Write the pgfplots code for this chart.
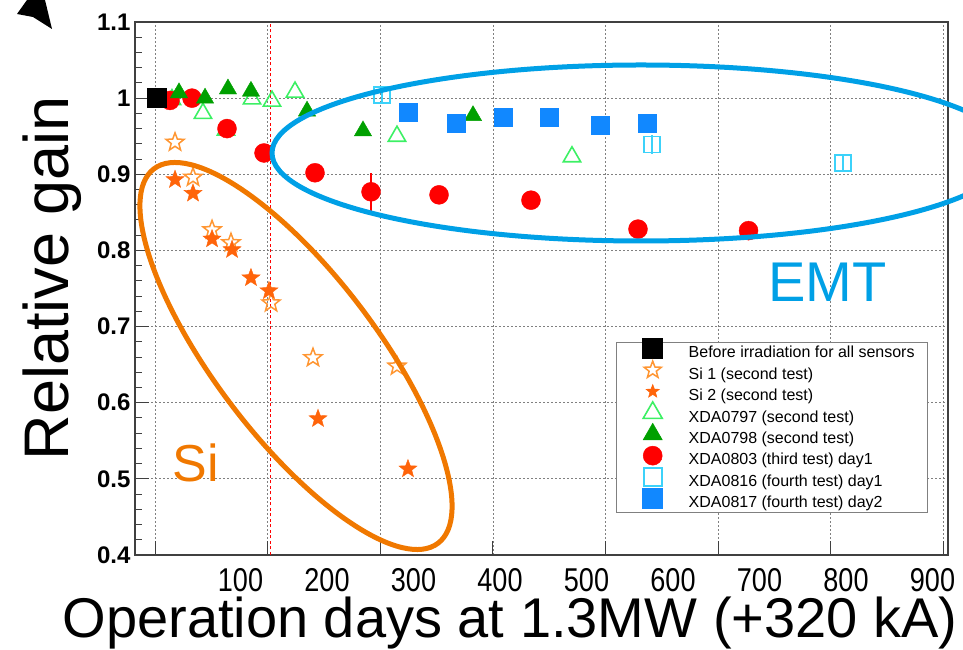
\documentclass[border=0pt]{standalone}
\usepackage{fontspec}
\setmainfont{Liberation Sans}
\newfontfamily\narrowfont[FakeStretch=0.82]{Liberation Sans}
\usepackage{pgfplots}
\pgfplotsset{compat=1.18}

\definecolor{siopen}{RGB}{255,150,50}
\definecolor{sifill}{RGB}{255,100,10}
\definecolor{greenopen}{RGB}{60,240,100}
\definecolor{greenfill}{RGB}{0,160,0}
\definecolor{redc}{RGB}{255,0,0}
\definecolor{cyanopen}{RGB}{60,210,250}
\definecolor{bluefill}{RGB}{17,136,255}
\definecolor{orangeann}{RGB}{240,120,0}
\definecolor{blueann}{RGB}{0,160,230}

\pgfdeclareplotmark{pstar}{%
  \pgfpathmoveto{\pgfpointpolar{90}{\pgfplotmarksize}}%
  \pgfpathlineto{\pgfpointpolar{126}{0.42\pgfplotmarksize}}%
  \pgfpathlineto{\pgfpointpolar{162}{\pgfplotmarksize}}%
  \pgfpathlineto{\pgfpointpolar{198}{0.42\pgfplotmarksize}}%
  \pgfpathlineto{\pgfpointpolar{234}{\pgfplotmarksize}}%
  \pgfpathlineto{\pgfpointpolar{270}{0.42\pgfplotmarksize}}%
  \pgfpathlineto{\pgfpointpolar{306}{\pgfplotmarksize}}%
  \pgfpathlineto{\pgfpointpolar{342}{0.42\pgfplotmarksize}}%
  \pgfpathlineto{\pgfpointpolar{18}{\pgfplotmarksize}}%
  \pgfpathlineto{\pgfpointpolar{54}{0.42\pgfplotmarksize}}%
  \pgfpathclose
  \pgfusepathqfillstroke
}
\pgfdeclareplotmark{pstaro}{%
  \pgfpathmoveto{\pgfpointpolar{90}{\pgfplotmarksize}}%
  \pgfpathlineto{\pgfpointpolar{126}{0.42\pgfplotmarksize}}%
  \pgfpathlineto{\pgfpointpolar{162}{\pgfplotmarksize}}%
  \pgfpathlineto{\pgfpointpolar{198}{0.42\pgfplotmarksize}}%
  \pgfpathlineto{\pgfpointpolar{234}{\pgfplotmarksize}}%
  \pgfpathlineto{\pgfpointpolar{270}{0.42\pgfplotmarksize}}%
  \pgfpathlineto{\pgfpointpolar{306}{\pgfplotmarksize}}%
  \pgfpathlineto{\pgfpointpolar{342}{0.42\pgfplotmarksize}}%
  \pgfpathlineto{\pgfpointpolar{18}{\pgfplotmarksize}}%
  \pgfpathlineto{\pgfpointpolar{54}{0.42\pgfplotmarksize}}%
  \pgfpathclose
  \pgfusepathqstroke
}

\begin{document}
\begin{tikzpicture}[x=1pt,y=1pt]
\useasboundingbox (0,0) rectangle (963,650);

% outer tick labels (days)
\begin{axis}[at={(135pt,95pt)}, anchor=south west, scale only axis,
  width=813pt, height=533pt,
  xmin=-21.97, xmax=917.9, ymin=0.4, ymax=1.1,
  axis line style={draw=none}, tick style={draw=none},
  ytick=\empty, xtick={100,200,300,400,500,600,700,800,900},
  xticklabel style={font=\narrowfont\fontsize{33}{33}\selectfont, inner sep=0pt, yshift=-13pt},
  /pgf/number format/assume math mode=true]
\addplot[draw=none] coordinates {(0,0.5)};
\end{axis}

\begin{axis}[at={(135pt,95pt)}, anchor=south west, scale only axis,
  width=813pt, height=533pt,
  xmin=-21.97, xmax=917.9, ymin=0.4, ymax=1.1,
  axis line style={black!75, line width=1.2pt},
  tick pos=left, tick align=inside,
  xtick={1.16,131.4,261.6,391.8,522.1,652.3,782.5,912.8}, xticklabels={},
  minor x tick num=4,
  ytick={0.4,0.5,0.6,0.7,0.8,0.9,1.0,1.1},
  yticklabels={0.4,0.5,0.6,0.7,0.8,0.9,1,1.1},
  minor y tick num=4,
  major tick length=14pt, minor tick length=7pt,
  every tick/.style={black!75, line width=1pt},
  grid=major,
  major grid style={black!50, line width=0.8pt, dash pattern=on 1.5pt off 2.5pt},
  yticklabel style={font=\fontsize{24}{24}\selectfont\bfseries, xshift=-1pt},
  /pgf/number format/assume math mode=true,
  legend style={at={(0.9754,0.3996)}, anchor=north east, draw=black!50,
    line width=0.8pt, fill=white, inner xsep=11pt, inner ysep=2pt, row sep=4.9pt,
    font=\fontsize{16}{16}\selectfont,
    nodes={inner sep=2pt, text height=11.5pt, text depth=1pt}},
  legend cell align=left,
  legend image code/.code={%
    \path[draw=none, fill=none] (0pt,-5pt) rectangle (59pt,5pt);
    \begin{pgfinterruptboundingbox}
    \draw[#1] plot coordinates {(25pt,4pt)};
    \end{pgfinterruptboundingbox}
  },
]
\addlegendimage{only marks, mark=square*, mark size=10pt, color=black, line width=0.5pt}
\addlegendentry{Before irradiation for all sensors}
\addlegendimage{only marks, mark=pstaro, mark size=9pt, color=siopen, line width=1.5pt}
\addlegendentry{Si 1 (second test)}
\addlegendimage{only marks, mark=pstar, mark size=7pt, color=sifill, line width=0.5pt}
\addlegendentry{Si 2 (second test)}
\addlegendimage{only marks, mark=triangle, mark size=11pt, color=greenopen, line width=1.6pt}
\addlegendentry{XDA0797 (second test)}
\addlegendimage{only marks, mark=triangle*, mark size=11pt, color=greenfill, line width=0.5pt}
\addlegendentry{XDA0798 (second test)}
\addlegendimage{only marks, mark=*, mark size=9.5pt, color=redc, line width=0.5pt}
\addlegendentry{XDA0803 (third test) day1}
\addlegendimage{only marks, mark=square, mark size=9pt, color=cyanopen, line width=1.6pt}
\addlegendentry{XDA0816 (fourth test) day1}
\addlegendimage{only marks, mark=square*, mark size=10pt, color=bluefill, line width=0.5pt}
\addlegendentry{XDA0817 (fourth test) day2}

% red dashed reference line
\addplot[forget plot, redc, line width=1pt, dash pattern=on 3pt off 2.5pt] coordinates {(134.1,0.4) (134.1,1.1)};

% XDA0797 (second test)
\addplot[forget plot, only marks, mark=triangle, mark size=10pt, color=greenopen, mark options={line width=1.6pt}]
 coordinates {(20.8,0.998) (56.6,0.980) (83.2,0.958) (113.3,0.999) (136.4,0.996) (163.0,1.008) (280.9,0.950) (483.2,0.923)};

% XDA0803 (third test) day1
\addplot[forget plot, only marks, mark=*, mark size=9.5pt, color=redc,
  error bars/.cd, y dir=both, y explicit, error mark=none, error bar style={line width=1.6pt}]
 coordinates {(18.5,0.997) +- (0,0) (43.9,1.000) +- (0,0) (84.4,0.960) +- (0,0) (127.2,0.928) +- (0,0)
  (186.1,0.902) +- (0,0) (250.9,0.877) +- (0,0.025) (329.5,0.873) +- (0,0) (435.8,0.866) +- (0,0)
  (559.5,0.828) +- (0,0) (687.3,0.826) +- (0,0)};

% XDA0798 (second test)
\addplot[forget plot, only marks, mark=triangle*, mark size=10pt, color=greenfill]
 coordinates {(28.9,1.007) (59.0,1.000) (85.5,1.012) (112.1,1.009) (176.9,0.983) (241.6,0.957) (368.8,0.977)};

% Si 1 (second test)
\addplot[forget plot, only marks, mark=pstaro, mark size=9.5pt, color=siopen, mark options={line width=1.5pt}]
 coordinates {(24.3,0.942) (45.1,0.896) (67.1,0.827) (89.0,0.810) (135.3,0.731) (183.8,0.659) (280.9,0.648)};

% Si 2 (second test)
\addplot[forget plot, only marks, mark=pstar, mark size=9.5pt, color=sifill]
 coordinates {(24.3,0.893) (45.1,0.875) (67.1,0.815) (90.2,0.801) (112.1,0.764) (132.9,0.747) (189.6,0.579) (293.6,0.513)};

% XDA0816 (fourth test) day1
\addplot[forget plot, only marks, mark=square, mark size=8pt, color=cyanopen, mark options={line width=1.6pt},
  error bars/.cd, y dir=both, y explicit, error mark=none, error bar style={line width=1.4pt}]
 coordinates {(263.6,1.004) +- (0,0.012) (575.7,0.939) +- (0,0.012) (796.5,0.915) +- (0,0.010)};

% XDA0817 (fourth test) day2
\addplot[forget plot, only marks, mark=square*, mark size=9pt, color=bluefill]
 coordinates {(293.6,0.981) (349.1,0.967) (403.5,0.975) (456.6,0.975) (515.6,0.965) (570.0,0.967)};

% Before irradiation
\addplot[forget plot, only marks, mark=square*, mark size=9.5pt, color=black]
 coordinates {(3.5,1.000)};
\end{axis}

% annotations
\draw[orangeann, line width=5pt, rotate around={-52.8:(296,294)}] (296,294) ellipse [x radius=235pt, y radius=81pt];
\draw[blueann, line width=5pt] (641,497) ellipse [x radius=369pt, y radius=88pt];
\node[anchor=base, text=orangeann, font=\fontsize{52}{52}\selectfont, inner sep=0pt] at (196,168) {Si};
\node[anchor=base west, text=blueann, font=\fontsize{56}{56}\selectfont, inner sep=0pt] at (768,348) {EMT};
\node[anchor=base, rotate=90, font=\fontsize{63}{63}\selectfont, inner sep=0pt] at (68,372) {Relative gain};
\node[anchor=base, font=\fontsize{56}{56}\selectfont, inner sep=0pt] at (510,12.5) {Operation days at 1.3MW (+320 kA)};
\fill[black] (17,636) -- (27,650) -- (45,650) -- (52,621) -- (33,633) -- cycle;
\end{tikzpicture}
\end{document}
